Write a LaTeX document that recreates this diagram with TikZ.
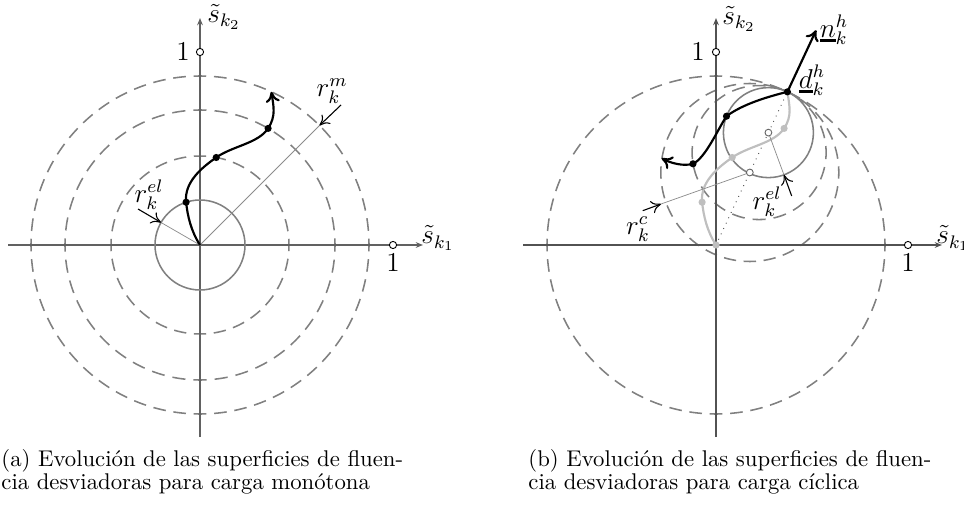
\documentclass[tikz,border=0pt]{standalone}
\usetikzlibrary{arrows.meta,calc}
\newcommand\ulthick[1]{\mathord{\vtop{\hbox{$#1$}\kern0.6pt\hrule height1.2pt}}}
\newcommand\pxpt{0.44}
\newcommand\dcirc[4][]{%
  \pgfmathsetmacro\dper{2*pi*#3*\pxpt/#4}%
  \pgfmathsetmacro\don{0.62*\dper}%
  \pgfmathsetmacro\doff{0.38*\dper}%
  \pgfmathsetmacro\dph{0.31*\dper}%
  \draw[dcircle,#1,dash pattern=on \don pt off \doff pt,dash phase=\dph pt] (#2) circle[radius=#3];}
\begin{document}
\begin{tikzpicture}[x=0.44pt,y=-0.44pt,
  axisA/.style={draw=black!62,line width=0.7pt,-{Stealth[length=3.2pt,width=2.5pt]}},
  axisB/.style={draw=black!68,line width=0.5pt,-{Stealth[length=3.2pt,width=2.5pt]}},
  dcircle/.style={draw=black!50,line width=0.68pt},
  ecircle/.style={draw=black!50,line width=0.68pt},
  radline/.style={draw=black!45,line width=0.32pt},
  pointer/.style={draw=black,line width=0.48pt,-{Computer Modern Rightarrow[length=4.2pt,width=5.6pt]}},
  mpath/.style={draw=black,line width=0.95pt},
  gpath/.style={draw=black!25,line width=0.95pt},
  tiparrow/.style={-{Computer Modern Rightarrow[length=4.6pt,width=6.2pt]}},
  lbl/.style={font=\large,inner sep=0pt},
  captext/.style={font=\normalsize,inner sep=0pt,anchor=base west},
  omarker/.style={draw=black,fill=white,line width=0.4pt},
  cmarker/.style={draw=black!60,fill=white,line width=0.4pt}
]
\useasboundingbox (0,0) rectangle (964,505);

% ================= panel (a)
\coordinate (OA) at (200,245);
\coordinate (axAL) at (8,245);
\coordinate (axAR) at (423,245);
\coordinate (ayAB) at (200,437);
\coordinate (ayAT) at (200,18);
\dcirc{OA}{89}{28}
\dcirc{OA}{135}{40}
\dcirc{OA}{169}{52}
\draw[axisA] (axAL) -- (axAR);
\draw[axisA] (ayAB) -- (ayAT);
\draw[ecircle] (OA) circle[radius=45];
\coordinate (RMA) at ($(OA)+(-45:169)$);
\coordinate (REA) at ($(OA)+(-150:45)$);
\draw[radline] (OA) -- (RMA);
\draw[radline] (OA) -- (REA);
\coordinate (rmS) at (341,105);
\coordinate (reS) at (138,209);
\draw[pointer] (rmS) -- (RMA);
\draw[pointer] (reS) -- (REA);
\node[lbl] (lrm) at (332,91) {$r_k^{m}$};
\node[lbl] (lrea) at (149,195) {$r_k^{el}$};
\begin{scope}[shift={(200,245)}]
  \draw[mpath,tiparrow] (0,0) .. controls (-9,-14) and (-12.4,-28.8) .. (-13.9,-42.8)
     .. controls (-16,-62.7) and (1.5,-77.2) .. (16.2,-87.5)
     .. controls (32.6,-99) and (58.2,-101.6) .. (68.1,-116.6)
     .. controls (76.35,-129.1) and (73.4,-139.2) .. (71.4,-153.2);
  \fill (-13.9,-42.8) circle[radius=3.6];
  \fill (16.2,-87.5) circle[radius=3.6];
  \fill (68.1,-116.6) circle[radius=3.6];
\end{scope}
\coordinate (m1xA) at (393,245);
\coordinate (m1yA) at (200,52);
\draw[omarker] (m1xA) circle[radius=3.6];
\draw[omarker] (m1yA) circle[radius=3.6];
\node[lbl] (l1xA) at (393,263) {$1$};
\node[lbl] (l1yA) at (183,52) {$1$};
\node[lbl,anchor=base west] (lsxA) at (421,244) {$\tilde{s}_{k_1}$};
\node[lbl,anchor=west] (lsyA) at (207,17) {$\tilde{s}_{k_2}$};

% ================= panel (b)
\coordinate (OB) at (716,245);
\coordinate (axBL) at (523,245);
\coordinate (axBR) at (942,245);
\coordinate (ayBB) at (716,437);
\coordinate (ayBT) at (716,18);
\coordinate (D) at ($(OB)+(-65:169)$);
\coordinate (C89) at ($(OB)+(-65:80)$);
\coordinate (C67) at ($(OB)+(-65:102)$);
\coordinate (CE) at ($(OB)+(-65:124)$);
\dcirc{OB}{169}{52}
\dcirc{C89}{89}{28}
\dcirc{C67}{67}{20}
\draw[axisB] (axBL) -- (axBR);
\draw[axisB] (ayBB) -- (ayBT);
\draw[ecircle] (CE) circle[radius=45];
\draw[black!70,line width=0.4pt,dash pattern=on 0.4pt off 2.2pt] (OB) -- (D);
\begin{scope}[shift={(716,245)}]
  \draw[gpath] (0,0) .. controls (-9,-14) and (-12.4,-28.8) .. (-13.9,-42.8)
     .. controls (-16,-62.7) and (1.5,-77.2) .. (16.2,-87.5)
     .. controls (32.6,-99) and (58.2,-101.6) .. (68.1,-116.6)
     .. controls (76.35,-129.1) and (73.4,-139.2) .. (71.4,-153.2);
  \fill[black!25] (0,0) circle[radius=3.6];
  \fill[black!25] (-13.9,-42.8) circle[radius=3.6];
  \fill[black!25] (16.2,-87.5) circle[radius=3.6];
  \fill[black!25] (68.1,-116.6) circle[radius=3.6];
\end{scope}
\coordinate (REB) at ($(CE)+(69.8:45)$);
\coordinate (RCB) at (661,204);
\draw[radline] (CE) -- (REB);
\draw[radline] (C89) -- (RCB);
\coordinate (reBS) at (791.7,196);
\coordinate (rcBS) at (642.7,210.7);
\draw[pointer] (reBS) -- (REB);
\draw[pointer] (rcBS) -- (RCB);
\coordinate (B1) at (726.5,116.2);
\coordinate (B2) at (693,163.8);
\coordinate (BT) at (661.7,158.3);
\draw[mpath,tiparrow] (D) .. controls (768,96.6) and (742.5,104.2) .. (B1)
   .. controls (717.7,129.5) and (705.6,157.8) .. (B2)
   .. controls (683.4,166.6) and (670.5,163) .. (BT);
\coordinate (NT) at ($(D)+(-65:68)$);
\draw[mpath,tiparrow] (D) -- (NT);
\fill (D) circle[radius=3.6];
\fill (B1) circle[radius=3.6];
\fill (B2) circle[radius=3.6];
\draw[cmarker] (CE) circle[radius=3.4];
\draw[cmarker] (C89) circle[radius=3.4];
\coordinate (m1xB) at (908,245);
\coordinate (m1yB) at (716,52);
\draw[omarker] (m1xB) circle[radius=3.6];
\draw[omarker] (m1yB) circle[radius=3.6];
\node[lbl] (l1xB) at (908,263) {$1$};
\node[lbl] (l1yB) at (698,52) {$1$};
\node[lbl,anchor=base west] (lsxB) at (936,244) {$\tilde{s}_{k_1}$};
\node[lbl,anchor=west] (lsyB) at (722,19) {$\tilde{s}_{k_2}$};
\node[lbl] (lnh) at (834,30) {$\ulthick{n}_k^h$};
\node[lbl] (ldh) at (812,80) {$\ulthick{d}_k^h$};
\node[lbl] (lreb) at (767,202) {$r_k^{el}$};
\node[lbl] (lrcb) at (638,229) {$r_k^{c}$};

% ================= captions
\node[captext] (capa1) at (1,466) {(a) Evolución de las superficies de fluen-};
\node[captext] (capa2) at (1,489) {cia desviadoras para carga monótona};
\node[captext] (capb1) at (528,466) {(b) Evolución de las superficies de fluen-};
\node[captext] (capb2) at (528,489) {cia desviadoras para carga cíclica};
\end{tikzpicture}
\end{document}
